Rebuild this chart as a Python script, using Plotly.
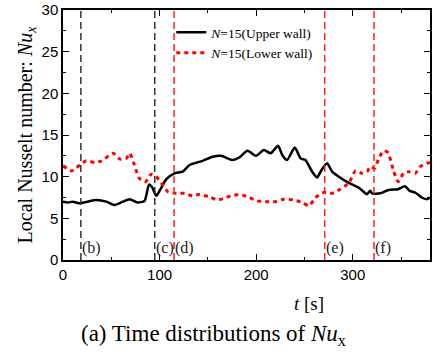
import plotly.graph_objects as go

# Upper wall (black solid)
t_upper = [0, 5, 10, 17.5, 25, 34.7, 45, 53.6, 62, 69, 77, 84.5, 89, 92.4, 96.6, 100, 107, 115.5,
           124, 131, 144.6, 155, 163.6, 175.6, 182.5, 191, 199.7, 208, 215, 222.7, 227, 232, 240,
           246, 251, 258, 263, 267.7, 273.5, 278.7, 285.6, 296, 306, 314.7, 318, 320, 328.5, 337,
           347, 354, 359, 364.6, 371.4, 376.6, 380]
nu_upper = [7.0, 6.9, 7.0, 6.8, 7.0, 7.2, 7.0, 6.6, 7.0, 7.3, 6.9, 7.1, 9.05, 8.7, 7.7, 8.3, 9.7, 10.4,
            10.6, 11.4, 11.9, 12.4, 12.5, 12.0, 12.3, 13.1, 12.5, 13.2, 12.8, 13.7, 12.6, 12.0, 13.5,
            12.2, 12.0, 10.6, 9.9, 10.8, 11.6, 10.6, 10.0, 9.25, 8.7, 7.9, 8.3, 8.0, 8.0, 8.4,
            8.5, 8.85, 8.3, 8.1, 7.5, 7.3, 7.5]

# Lower wall (red dotted)
t_lower = [0, 9, 17.5, 24, 33, 40, 52, 59, 65.6, 69, 74, 79, 85.6, 91.4, 96.6, 103, 108.6, 117, 126,
           134, 140, 151.5, 160, 168.8, 177, 185.7, 192.8, 201, 210.6, 220, 228.8, 239, 247.7, 254.6,
           261.5, 270, 278.7, 287, 296, 302.8, 309.6, 315, 318, 322.7, 327, 332, 336.4, 342, 347,
           352.6, 358, 364.6, 369.8, 376.6, 380]
nu_lower = [11.3, 10.7, 11.4, 11.9, 11.7, 11.9, 12.8, 12.1, 12.2, 12.8, 11.4, 9.8, 9.4, 10.3, 10.0,
            9.05, 8.2, 8.0, 8.0, 7.7, 7.85, 7.6, 7.2, 7.5, 7.8, 7.8, 7.5, 7.1, 7.0, 7.0, 7.3, 7.2,
            6.9, 6.5, 7.5, 8.1, 8.0, 8.5, 9.25, 10.7, 10.4, 10.6, 11.2, 11.0, 12.2, 13.1, 12.9, 10.8,
            9.4, 10.4, 10.6, 10.4, 11.2, 11.6, 11.7]

# Snapshot markers
marker_t = [18.5, 95, 115, 271, 322]
marker_labels = ["(b)", "(c)", "(d)", "(e)", "(f)"]
marker_colors = ["#333333", "#333333", "#ff2020", "#ff2020", "#ff2020"]

y_ticks = [0, 5, 10, 15, 20, 25, 30]
x_ticks = [0, 100, 200, 300]

SERIF = "Times New Roman, Liberation Serif, serif"
SANS = "Arial, Liberation Sans, sans-serif"

fig = go.Figure()
fig.add_trace(go.Scatter(x=t_upper, y=nu_upper, mode="lines",
                         line=dict(color="black", width=2.5, shape="spline", smoothing=0.6),
                         name="<i>N</i>=15(Upper wall)"))
fig.add_trace(go.Scatter(x=t_lower, y=nu_lower, mode="lines",
                         line=dict(color="#ff0000", width=3, dash="4px,4px", shape="spline", smoothing=0.6),
                         name="<i>N</i>=15(Lower wall)"))

for tx, lab, col in zip(marker_t, marker_labels, marker_colors):
    fig.add_shape(type="line", x0=tx, x1=tx, y0=0, y1=30, xref="x", yref="y",
                  line=dict(color=col, width=1.5, dash="7px,4px"))
    fig.add_annotation(x=tx, y=1.5, text=lab, showarrow=False, xanchor="left", xshift=-1,
                       font=dict(family=SERIF, size=16, color="#222"))

fig.add_annotation(x=0.67, y=-0.125, xref="paper", yref="paper", text="<i>t</i> [s]", showarrow=False,
                   xanchor="center", yanchor="top", font=dict(family=SERIF, size=19, color="black"))
fig.add_annotation(x=0.41, y=-0.235, xref="paper", yref="paper",
                   text="(a) Time distributions of <i>Nu</i><sub>x</sub>", showarrow=False,
                   xanchor="center", yanchor="top", font=dict(family=SERIF, size=23, color="black"))

axis_common = dict(showline=True, linecolor="black", linewidth=1.5, mirror="ticks",
                   ticks="inside", ticklen=6, tickwidth=1, tickcolor="black",
                   showgrid=False, zeroline=False, ticklabeloverflow="allow",
                   tickfont=dict(family=SANS, size=15, color="black"))

fig.update_layout(
    width=433, height=354,
    margin=dict(l=63, r=1, t=7, b=94),
    plot_bgcolor="white", paper_bgcolor="white",
    xaxis=dict(range=[0, 380], tickvals=x_ticks, ticktext=[str(v) for v in x_ticks],
               minor=dict(tickvals=[50, 150, 250, 350], ticks="inside", ticklen=3, tickcolor="black"),
               **axis_common),
    yaxis=dict(range=[0, 30], tickvals=y_ticks, ticktext=[str(v) for v in y_ticks],
               minor=dict(tickvals=[2.5, 7.5, 12.5, 17.5, 22.5, 27.5], ticks="inside", ticklen=3, tickcolor="black"),
               title=dict(text="Local Nusselt number: <i>Nu</i><sub><i>x</i></sub>",
                          font=dict(family=SERIF, size=20, color="black"), standoff=4),
               **axis_common),
    legend=dict(x=0.295, y=0.972, xanchor="left", yanchor="top", bgcolor="rgba(0,0,0,0)",
                font=dict(family=SERIF, size=13.5, color="black"), itemwidth=30, tracegroupgap=0),
    showlegend=True,
)

fig.write_html("out.html")
